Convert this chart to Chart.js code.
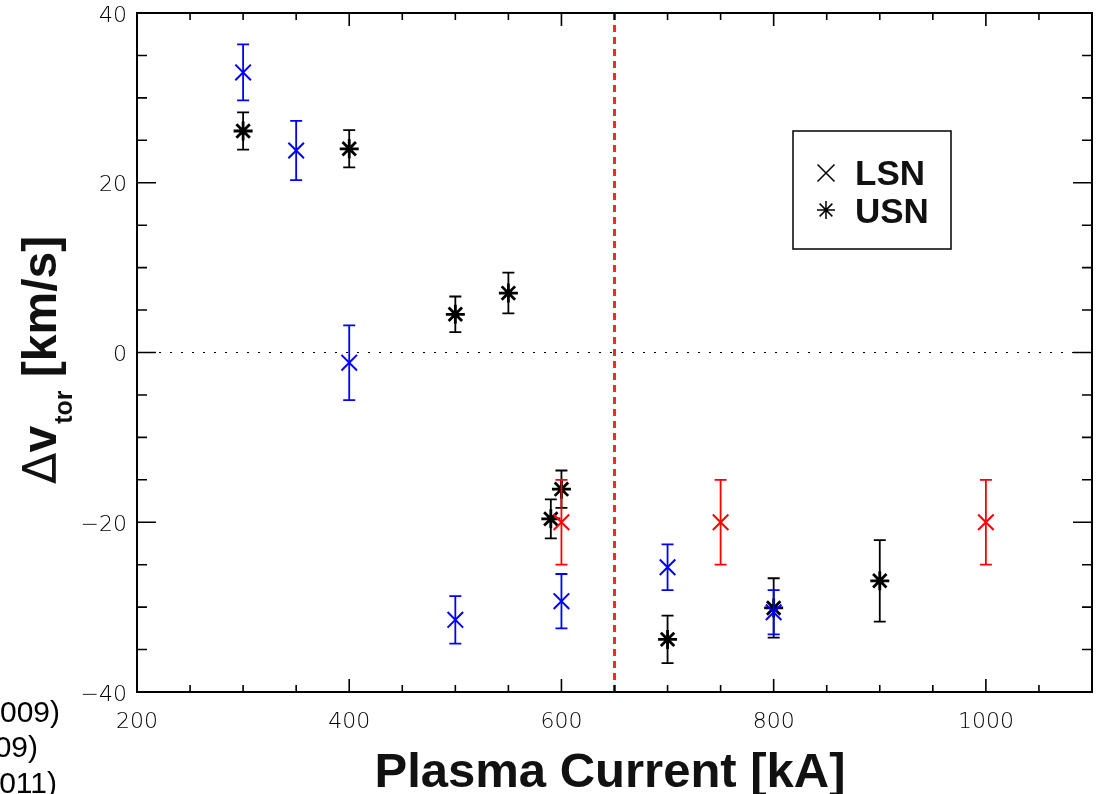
<!DOCTYPE html>
<html lang="en">
<head>
<meta charset="UTF-8">
<script src="https://cdn.jsdelivr.net/npm/chart.js"></script>
<title>Delta v_tor vs plasma current</title>
<style>
    html, body { margin: 0; background: #fff; overflow: hidden; }
    #grafico { display: block; }
</style>
</head>
<body>
<canvas id="grafico" width="1096" height="794"></canvas>
<script>
    // LSN, blue points
    const lsnBlueX = [300, 350, 400, 500, 600, 700, 800];
    const lsnBlueY = [33.0, 23.8, -1.2, -31.5, -29.3, -25.3, -30.6];
    const lsnBlueErr = [3.3, 3.5, 4.4, 2.8, 3.2, 2.7, 2.6];

    // USN, black points
    const usnX = [300, 400, 500, 550, 590, 600, 700, 800, 900];
    const usnY = [26.1, 24.0, 4.5, 7.0, -19.6, -16.1, -33.8, -30.1, -26.9];
    const usnErr = [2.2, 2.2, 2.1, 2.4, 2.3, 2.2, 2.8, 3.5, 4.8];

    // LSN, red points
    const lsnRedX = [600, 750, 1000];
    const lsnRedY = [-20, -20, -20];
    const lsnRedErr = [5, 5, 5];

    // dashed limit line and axis ranges
    const limitX = 650;
    const xRange = [200, 1100];
    const yRange = [-40, 40];

    function pontos(xs, ys) {
        return xs.map((v, i) => ({ x: v, y: ys[i] }));
    }

    const tickFont = { family: 'DejaVu Sans', size: 22, weight: 200 };

    // error bars, drawn right before each dataset's markers
    const barrasErro = {
        id: 'barrasErro',
        beforeDatasetDraw(chart, args) {
            const ds = chart.data.datasets[args.index];
            if (!ds.erros) return;
            const ctx = chart.ctx, x = chart.scales.x, y = chart.scales.y;
            ctx.save();
            ctx.strokeStyle = ds.borderColor;
            ctx.lineWidth = 1.8;
            ctx.beginPath();
            ds.data.forEach((p, i) => {
                const px = x.getPixelForValue(p.x);
                const top = y.getPixelForValue(p.y + ds.erros[i]);
                const bot = y.getPixelForValue(p.y - ds.erros[i]);
                ctx.moveTo(px, top); ctx.lineTo(px, bot);
                ctx.moveTo(px - 6, top); ctx.lineTo(px + 6, top);
                ctx.moveTo(px - 6, bot); ctx.lineTo(px + 6, bot);
            });
            ctx.stroke();
            ctx.restore();
        }
    };

    function marcador(ctx, estilo, r, x, y) {
        if (Chart.helpers && Chart.helpers.drawPoint) {
            Chart.helpers.drawPoint(ctx, { pointStyle: estilo, radius: r, borderWidth: 1.5, rotation: 0 }, x, y);
        }
    }

    // frame with inward ticks on all four sides, titles, legend
    const moldura = {
        id: 'moldura',
        afterDraw(chart) {
            const ctx = chart.ctx, a = chart.chartArea;
            const x = chart.scales.x, y = chart.scales.y;
            ctx.save();
            ctx.strokeStyle = '#000';
            ctx.lineWidth = 1.6;
            ctx.beginPath();
            x.ticks.forEach(t => {
                const px = x.getPixelForValue(t.value);
                const len = t.value % 200 === 0 ? 13 : 7;
                ctx.moveTo(px, a.bottom); ctx.lineTo(px, a.bottom - len);
                ctx.moveTo(px, a.top); ctx.lineTo(px, a.top + len);
            });
            y.ticks.forEach(t => {
                const py = y.getPixelForValue(t.value);
                const len = t.value % 20 === 0 ? 19 : 10;
                ctx.moveTo(a.left, py); ctx.lineTo(a.left + len, py);
                ctx.moveTo(a.right, py); ctx.lineTo(a.right - len, py);
            });
            ctx.stroke();
            ctx.lineWidth = 2;
            ctx.strokeRect(a.left, a.top, a.right - a.left, a.bottom - a.top);

            // x title
            ctx.fillStyle = '#111';
            ctx.font = 'bold 49px "Liberation Sans"';
            ctx.textAlign = 'center';
            ctx.textBaseline = 'alphabetic';
            ctx.fillText('Plasma Current [kA]', 610, 787);

            // y title, rotated, with subscript
            ctx.save();
            ctx.translate(56, 484);
            ctx.rotate(-Math.PI / 2);
            ctx.textAlign = 'left';
            ctx.font = '46px "DejaVu Sans"';
            ctx.fillText('\u0394', 0, 0);
            let w = ctx.measureText('\u0394').width;
            ctx.font = 'bold 48px "Liberation Sans"';
            ctx.fillText('v', w, 0);
            w += ctx.measureText('v').width;
            ctx.font = 'bold 25px "Liberation Sans"';
            ctx.fillText('tor', w + 2, 16);
            w += ctx.measureText('tor').width + 2;
            ctx.font = 'bold 48px "Liberation Sans"';
            ctx.fillText(' [km/s]', w, 0);
            ctx.restore();

            // legend box
            ctx.lineWidth = 1.5;
            ctx.strokeRect(793, 131, 158, 118);
            ctx.strokeStyle = '#000';
            marcador(ctx, 'crossRot', 12, 826, 173);
            marcador(ctx, 'star', 9, 826, 210);
            ctx.fillStyle = '#111';
            ctx.textAlign = 'left';
            ctx.font = 'bold 35px "Liberation Sans"';
            ctx.fillText('LSN', 855, 185);
            ctx.fillText('USN', 855, 223);

            // clipped text of the neighbouring panel
            ctx.fillStyle = '#000';
            ctx.textAlign = 'right';
            ctx.font = '30px "Liberation Sans"';
            ctx.fillText('009)', 60, 722);
            ctx.fillText('09)', 38, 757);
            ctx.fillText('011)', 57, 793);
            ctx.restore();
        }
    };

    new Chart(document.getElementById('grafico'), {
        type: 'scatter',
        data: {
            datasets: [
                {
                    label: 'LSN',
                    data: pontos(lsnBlueX, lsnBlueY),
                    erros: lsnBlueErr,
                    borderColor: '#0000ff',
                    pointStyle: 'crossRot',
                    pointRadius: 11,
                    pointBorderWidth: 2
                },
                {
                    label: 'LSN red',
                    data: pontos(lsnRedX, lsnRedY),
                    erros: lsnRedErr,
                    borderColor: '#ff0000',
                    pointStyle: 'crossRot',
                    pointRadius: 11,
                    pointBorderWidth: 2
                },
                {
                    label: 'USN',
                    data: pontos(usnX, usnY),
                    erros: usnErr,
                    borderColor: '#000000',
                    pointStyle: 'star',
                    pointRadius: 9.5,
                    pointBorderWidth: 2.8
                },
                {
                    label: 'zero',
                    data: [{ x: xRange[0], y: 0 }, { x: xRange[1], y: 0 }],
                    showLine: true,
                    borderColor: '#000',
                    borderWidth: 1.2,
                    borderDash: [2, 9],
                    pointRadius: 0
                },
                {
                    label: 'limit',
                    data: [{ x: limitX, y: yRange[0] }, { x: limitX, y: yRange[1] }],
                    showLine: true,
                    borderColor: 'rgb(255,40,40)',
                    borderWidth: 3,
                    borderDash: [7, 5],
                    pointRadius: 0
                }
            ]
        },
        options: {
            responsive: false,
            animation: false,
            layout: { autoPadding: false, padding: { top: 13, right: 4, left: 0, bottom: 0 } },
            plugins: { legend: { display: false }, tooltip: { enabled: false } },
            scales: {
                x: {
                    type: 'linear', min: xRange[0], max: xRange[1],
                    afterFit(s) {
                        s.height = 102;
                        s.paddingLeft = 0; s.paddingRight = 0;
                    },
                    grid: { display: false, drawTicks: false },
                    border: { display: false },
                    ticks: {
                        stepSize: 50, autoSkip: false, maxRotation: 0, padding: 17,
                        color: '#000', font: tickFont,
                        callback: v => v % 200 === 0 ? String(v) : ''
                    }
                },
                y: {
                    type: 'linear', min: yRange[0], max: yRange[1],
                    afterFit(s) {
                        s.width = 137;
                        s.paddingTop = 0; s.paddingBottom = 0;
                    },
                    grid: { display: false, drawTicks: false },
                    border: { display: false },
                    ticks: {
                        stepSize: 5, autoSkip: false, padding: 10, labelOffset: 3,
                        color: '#000', font: tickFont,
                        callback: v => v % 20 === 0 ? (v < 0 ? '\u2212' + Math.abs(v) : String(v)) : ''
                    }
                }
            }
        },
        plugins: [barrasErro, moldura]
    });
</script>
</body>
</html>
